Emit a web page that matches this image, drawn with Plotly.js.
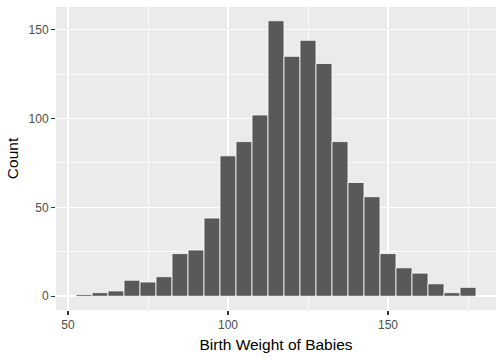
<!DOCTYPE html>
<html>
<head>
<meta charset="utf-8">
<script src="https://cdn.plot.ly/plotly-3.0.1.min.js"></script>
<style>html,body{margin:0;padding:0;background:#fff;}#chart{width:504px;height:360px;}</style>
</head>
<body>
<div id="chart"></div>
<script>
const binCenters = [55, 60, 65, 70, 75, 80, 85, 90, 95, 100, 105, 110, 115, 120, 125, 130, 135, 140, 145, 150, 155, 160, 165, 170, 175];
const counts = [1, 2, 3, 9, 8, 11, 24, 26, 44, 79, 87, 102, 155, 135, 144, 131, 87, 64, 56, 24, 16, 13, 7, 2, 5];
const binWidth = 5;
const xTickVals = [50, 100, 150];
const yTickVals = [0, 50, 100, 150];
const xTitle = "Birth Weight of Babies";
const yTitle = "Count";

const font = "Liberation Sans, Arial, sans-serif";
const trace = {
  type: "bar",
  x: binCenters,
  y: counts,
  width: binCenters.map(() => binWidth),
  marker: {color: "#595959", line: {color: "#FFFFFF", width: 0.8}},
  hoverinfo: "x+y"
};
const axisCommon = {
  showgrid: true,
  gridcolor: "#FFFFFF",
  gridwidth: 1.5,
  zeroline: false,
  showline: false,
  ticks: "outside",
  ticklen: 4,
  tickwidth: 1.1,
  tickcolor: "#333333",
  tickfont: {family: font, size: 12, color: "#4D4D4D"}
};
const layout = {
  width: 504, height: 360,
  margin: {l: 56, r: 8, t: 7, b: 50},
  paper_bgcolor: "#FFFFFF",
  plot_bgcolor: "#EBEBEB",
  bargap: 0,
  showlegend: false,
  xaxis: Object.assign({}, axisCommon, {
    range: [46.25, 183.75],
    tickmode: "array", tickvals: xTickVals, ticktext: xTickVals.map(String),
    minor: {showgrid: true, gridcolor: "#FFFFFF", gridwidth: 0.8, tickmode: "array", tickvals: [75, 125, 175], ticks: ""},
    title: {text: xTitle, font: {family: font, size: 15.5, color: "#000000"}, standoff: 7}
  }),
  yaxis: Object.assign({}, axisCommon, {
    range: [-7.75, 162.75],
    tickmode: "array", tickvals: yTickVals, ticktext: yTickVals.map(String),
    minor: {showgrid: true, gridcolor: "#FFFFFF", gridwidth: 0.8, tickmode: "array", tickvals: [25, 75, 125], ticks: ""},
    title: {text: yTitle, font: {family: font, size: 15.5, color: "#000000"}, standoff: 6}
  })
};
Plotly.newPlot("chart", [trace], layout, {staticPlot: true, displayModeBar: false});
</script>
</body>
</html>
